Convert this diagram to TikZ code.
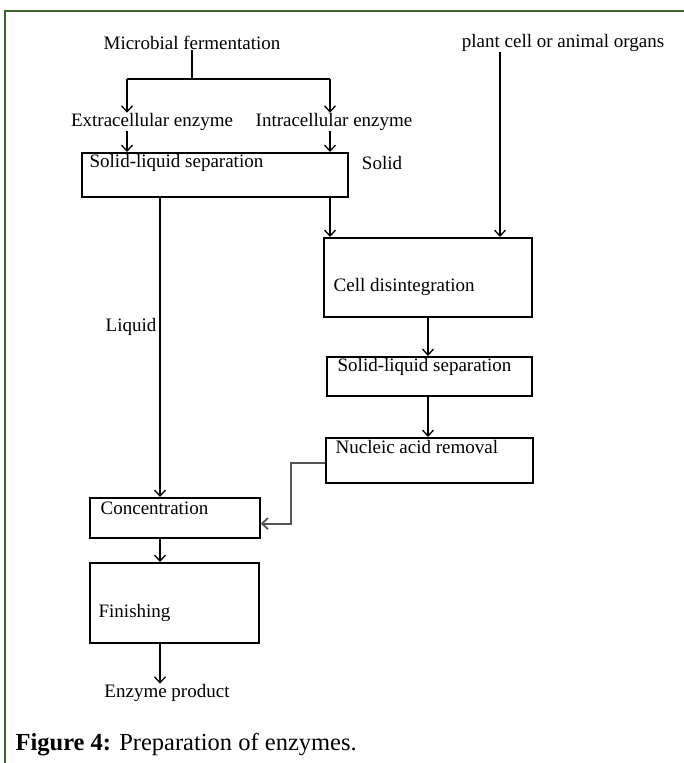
\documentclass[tikz,border=0pt]{standalone}
\usepackage{fontspec}
\setmainfont{Liberation Serif}
\usetikzlibrary{arrows.meta, calc, positioning}
\definecolor{frameGreen}{RGB}{58,100,42}
\definecolor{elbowGray}{RGB}{85,85,85}

\begin{document}
\begin{tikzpicture}[x=1pt, y=-1pt, line width=1.3pt,
    stage/.style={draw, line width=1.6pt, anchor=north west, inner sep=0pt},
    txt/.style={font=\fontsize{19}{21}\selectfont, inner sep=0pt},
    flow/.style={-{Straight Barb[length=6pt,width=11pt]}, line width=1.3pt}]
        \useasboundingbox (0,0) rectangle (684,763);
        \draw[frameGreen, line width=2.2pt] (5,800) -- (5,11) -- (700,11);

        % boxes
        \node[stage, minimum width=266pt, minimum height=44pt] (sep1) at (81,152) {};
        \node[stage, minimum width=208pt, minimum height=79pt] (cell) at (323,237) {};
        \node[stage, minimum width=205pt, minimum height=39pt] (sep2) at (326,356) {};
        \node[stage, minimum width=207pt, minimum height=45pt] (nucl) at (325,437) {};
        \node[stage, minimum width=170pt, minimum height=40pt] (conc) at (89,497) {};
        \node[stage, minimum width=169pt, minimum height=80pt] (fin) at (89,562) {};

        % box texts
        \node[txt, anchor=west] at (89,163) {Solid-liquid separation};
        \node[txt, anchor=west] at (333,287) {Cell disintegration};
        \node[txt, anchor=west] at (337,367) {Solid-liquid separation};
        \node[txt, anchor=west] at (335,447) {Nucleic acid removal};
        \node[txt, anchor=west] at (100,508) {Concentration};
        \node[txt, anchor=west] at (98,613) {Finishing};

        % free texts
        \node[txt] (micro) at (192,43) {Microbial fermentation};
        \node[txt] (plant) at (563,43) {plant cell or animal organs};
        \node[txt] (ext) at (152,122) {Extracellular enzyme};
        \node[txt] (int) at (334,122) {Intracellular enzyme};
        \node[txt] (solid) at (382,163) {Solid};
        \node[txt] (liquid) at (131,327) {Liquid};
        \node[txt] (product) at (167,693) {Enzyme product};

        % connectors
        \coordinate (splitL) at (127,79);
        \coordinate (splitR) at (330,79);
        \coordinate (liq) at ($(sep1.south west)+(79,0)$);
        \coordinate (pl) at (500,0);
        \coordinate (col) at (428,0);

        \draw (micro.south) -- (micro.south |- splitL);
        \draw (splitL) -- (splitR);
        \draw[flow] (splitL) -- (splitL |- ext.north);
        \draw[flow] (splitR) -- (splitR |- int.north);
        \draw[flow] (splitL |- ext.south) -- (splitL |- sep1.north);
        \draw[flow] (splitR |- int.south) -- (splitR |- sep1.north);
        \draw[flow] (liq) -- (liq |- conc.north);
        \draw[flow] (splitR |- sep1.south) -- (splitR |- cell.north);
        \draw[flow] (pl |- plant.south) -- (pl |- cell.north);
        \draw[flow] (col |- cell.south) -- (col |- sep2.north);
        \draw[flow] (col |- sep2.south) -- (col |- nucl.north);
        \draw[flow, elbowGray, line width=1.8pt] ($(nucl.north west)+(0,26)$) -- ++(-34,0)
             |- ($(conc.south east)+(0,-15)$);
        \draw[flow] (liq |- conc.south) -- (liq |- fin.north);
        \draw[flow] (liq |- fin.south) -- (liq |- product.north);

        % caption
        \node[font=\fontsize{24.5}{26}\selectfont, inner sep=0pt, anchor=west] (caption)
             at (15,745) {\textbf{Figure 4:} Preparation of enzymes.};
    \end{tikzpicture}
\end{document}
